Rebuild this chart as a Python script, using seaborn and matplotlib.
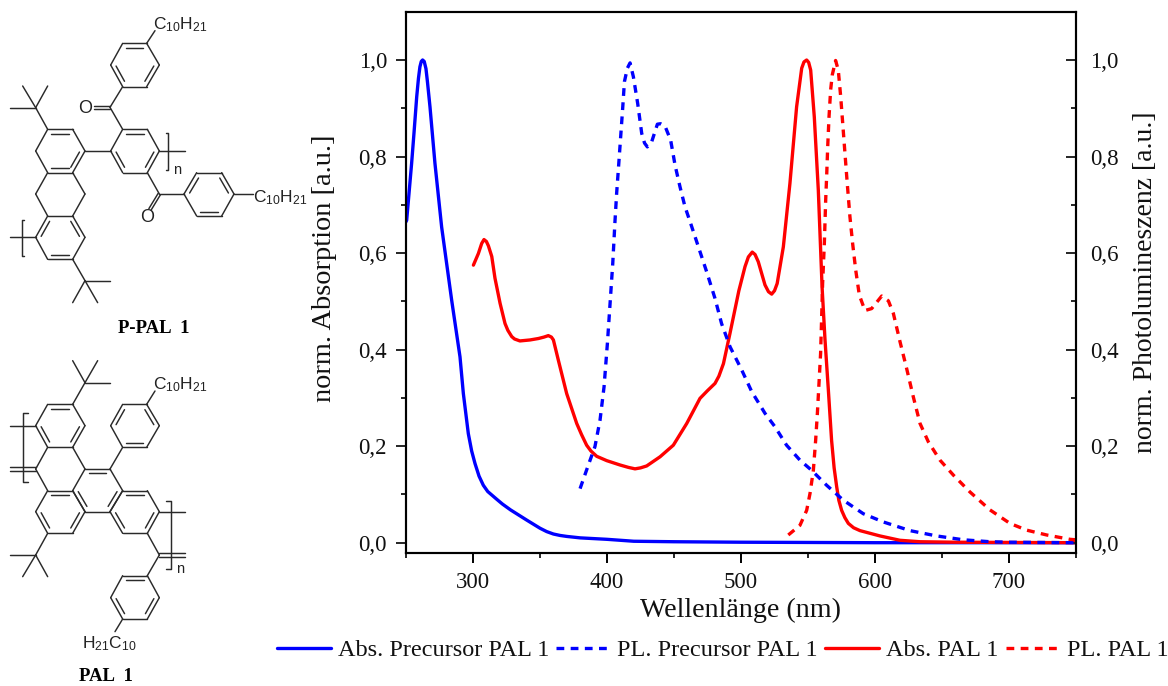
import numpy as np
import pandas as pd
import matplotlib
matplotlib.use("Agg")
import matplotlib.pyplot as plt
from matplotlib.lines import Line2D
from matplotlib.ticker import MultipleLocator, FuncFormatter
import seaborn as sns

# ---------- spectra ----------
abs_prec_nm = [250, 250.5, 254.2, 256, 258, 259.3, 260.4, 261.4, 262.4, 263.6, 264.9, 266, 267.9, 271.6, 276.6, 284.1, 290.3,
               292.8, 296.5, 299, 301.5, 304.5, 307.7, 311, 317.7, 322, 328, 340, 350, 355, 360, 365, 370, 380, 400, 420, 450, 500, 600, 750]
abs_prec_y = [0.665, 0.668, 0.786, 0.85, 0.924, 0.962, 0.986, 0.997, 1.0, 0.997, 0.982, 0.955, 0.903, 0.786, 0.654, 0.502, 0.385,
              0.309, 0.226, 0.19, 0.164, 0.138, 0.119, 0.106, 0.09, 0.08, 0.068, 0.047, 0.03, 0.023, 0.018, 0.015, 0.013, 0.01, 0.007, 0.003, 0.002, 0.001, 0.0, 0.0]

pl_prec_nm = [379.9, 386.1, 391, 394.8, 397.8, 400.3, 402.3, 404.3, 406, 407.2, 408.7, 410.2, 411.7, 413, 415.2,
              417.2, 419.7, 422.9, 425.9, 428, 430.1, 433.4, 437.6, 440, 443.3, 447.5, 450.8, 454.5, 458.2, 462, 468.2,
              474.4, 480.6, 485.5, 491.8, 500.5, 508, 517.9, 525.4, 534, 544, 552.7, 563.9, 576.4, 591.3, 606.2,
              626.1, 646, 666, 685.8, 700, 750]
pl_prec_y = [0.112, 0.161, 0.199, 0.254, 0.323, 0.413, 0.496, 0.579, 0.668, 0.724, 0.782, 0.841, 0.9, 0.955, 0.983,
             0.994, 0.965, 0.91, 0.848, 0.828, 0.82, 0.831, 0.867, 0.868, 0.863, 0.834, 0.782, 0.737, 0.696, 0.665, 0.613,
             0.561, 0.506, 0.454, 0.406, 0.358, 0.313, 0.268, 0.24, 0.202, 0.171, 0.15, 0.119, 0.088, 0.06, 0.043,
             0.025, 0.014, 0.006, 0.002, 0.001, 0.0]

abs_pal_nm = [300.3, 304, 306.5, 308.2, 310, 311.5, 314, 316.4, 320.2, 323.9, 326, 328.9, 331, 335, 342.5, 348.8, 353, 356.2,
              358.5, 360, 363.7, 369.9, 377.4, 381, 384.8, 388, 392.3, 399.8, 409.7, 416, 420.9, 425, 429.6, 439.6, 449.5,
              459.5, 469.4, 475, 480.6, 483.5, 486.9, 491.8, 498.4, 503, 505.5, 508.4, 510.5, 512.9, 517.9, 520.5, 522.9,
              525, 527, 531.6, 536.5, 541.5, 545.3, 547, 549, 550.5, 552, 554.7, 557.7, 560.5, 562.7, 565.2, 567.6, 569.5,
              571.4, 573, 575.1, 577.5, 580.1, 584, 588.8, 603.7, 618.6, 633.6, 660, 750]
abs_pal_y = [0.575, 0.599, 0.62, 0.628, 0.624, 0.615, 0.593, 0.548, 0.496, 0.454, 0.44, 0.427, 0.422, 0.418, 0.42, 0.423, 0.426, 0.429,
             0.426, 0.42, 0.378, 0.309, 0.247, 0.224, 0.202, 0.19, 0.179, 0.17, 0.161, 0.156, 0.153, 0.155, 0.159, 0.178, 0.202,
             0.247, 0.299, 0.315, 0.33, 0.345, 0.371, 0.434, 0.522, 0.572, 0.592, 0.602, 0.597, 0.582, 0.534, 0.52, 0.515,
             0.522, 0.537, 0.613, 0.744, 0.903, 0.983, 0.996, 1.0, 0.995, 0.979, 0.882, 0.73, 0.53, 0.42, 0.316, 0.212, 0.155,
             0.116, 0.088, 0.067, 0.052, 0.04, 0.031, 0.025, 0.014, 0.005, 0.002, 0.001, 0.0]

pl_pal_nm = [535.3, 544, 549, 551.5, 554, 555.7, 557, 558.2, 559.4, 560.2, 560.9, 562.2, 563.2, 564, 564.7, 565.7,
             566.9, 568.1, 570.6, 572.6, 574.4, 575.9, 577.6, 579.3, 581.3, 583.3, 585.6, 588.3, 592.5, 597.5,
             605, 610, 613.7, 618.7, 623.6, 628.6, 633.6, 639.8, 648.5, 658.5, 670.9, 685.8, 700.7, 713.2, 728.1,
             745.5, 750]
pl_pal_y = [0.016, 0.036, 0.067, 0.102, 0.15, 0.212, 0.268, 0.33, 0.392, 0.468, 0.537, 0.62, 0.71, 0.765, 0.82, 0.883,
            0.938, 0.969, 0.999, 0.979, 0.924, 0.869, 0.806, 0.744, 0.675, 0.62, 0.565, 0.513, 0.481, 0.485,
            0.511, 0.501, 0.475, 0.416, 0.361, 0.302, 0.247, 0.209, 0.171, 0.14, 0.105, 0.068, 0.04, 0.026, 0.016,
            0.007, 0.006]

x_ticks = [300, 400, 500, 600, 700]
y_ticks = [0.0, 0.2, 0.4, 0.6, 0.8, 1.0]
series_names = ["Abs. Precursor PAL 1", "PL. Precursor PAL 1", "Abs. PAL 1", "PL. PAL 1"]

sns.set_theme(style="ticks")
plt.rcParams["font.family"] = ["Liberation Serif", "DejaVu Serif"]
plt.rcParams["mathtext.default"] = "regular"
plt.rcParams["axes.linewidth"] = 1.5
W, H = 1168, 686
fig = plt.figure(figsize=(W / 100, H / 100), dpi=100, facecolor="white")

# ---------- chemical structures: drawn in zoomed-pixel units ----------
chem = fig.add_axes([0, 0, 1, 1], zorder=0)
chem.set_xlim(0, W * 3)
chem.set_ylim(H * 3, 0)
chem.axis("off")
BOND = dict(color="#2a2a2a", lw=1.05, solid_capstyle="round")


def bond(a, b):
    chem.plot([a[0], b[0]], [a[1], b[1]], **BOND)


def dbl(a, b, off=8):
    a, b = np.array(a, float), np.array(b, float)
    n = np.array([-(b - a)[1], (b - a)[0]])
    n = n / np.hypot(*n) * off / 2
    bond(a + n, b + n)
    bond(a - n, b - n)


def ring(v, doubles):
    v = np.array(v, float)
    c = v.mean(axis=0)
    for i in range(6):
        bond(v[i], v[(i + 1) % 6])
    for i in doubles:
        a, b = v[i], v[(i + 1) % 6]
        p = a + (c - a) * 0.2
        q = b + (c - b) * 0.2
        bond(p + (q - p) * 0.06, q - (q - p) * 0.06)


def tbu(a, c, t1, t2, t3):
    for p in (a, t1, t2, t3):
        bond(c, p)


def bracket(x, y0, y1, tick):
    chem.plot([x + tick, x, x, x + tick], [y0, y0, y1, y1], color="#2a2a2a", lw=1.05)


def sans(x, y, s, size=12.5, ha="left"):
    chem.text(x, y, s, ha=ha, va="center", fontsize=size, color="#222222", family=["Liberation Sans"])


# P-PAL 1
ring([(368, 130), (440, 130), (478, 195), (440, 260), (368, 260), (332, 195)], [0, 2, 4])
bond((440, 130), (465, 92))
sans(460, 74, "C$_{10}$H$_{21}$")
bond((368, 260), (330, 322))
dbl((330, 322), (282, 322))
sans(254, 326, "O", ha="center", size=13)
bond((330, 322), (368, 388))
ring([(368, 388), (442, 388), (478, 453), (442, 518), (368, 518), (332, 453)], [0, 2, 4])
bond((332, 453), (255, 453))
bond((478, 453), (555, 453))
bracket(505, 400, 510, -8)
sans(530, 510, "n", size=10.5, ha="center")
bond((442, 518), (478, 582))
dbl((478, 582), (450, 628))
sans(442, 652, "O", ha="center", size=13)
bond((478, 582), (552, 582))
ring([(552, 582), (590, 518), (665, 518), (702, 582), (665, 648), (590, 648)], [0, 2, 4])
bond((702, 582), (760, 582))
sans(760, 592, "C$_{10}$H$_{21}$")
ring([(143, 388), (218, 388), (255, 453), (218, 518), (143, 518), (107, 453)], [0, 2, 3])
tbu((143, 388), (107, 323), (30, 323), (68, 258), (143, 258))
bond((143, 518), (107, 582))
bond((107, 582), (143, 648))
bond((218, 518), (255, 582))
bond((255, 582), (218, 648))
ring([(143, 648), (218, 648), (255, 712), (218, 778), (143, 778), (107, 712)], [5, 1, 3])
bond((107, 712), (30, 712))
bracket(65, 660, 768, 8)
tbu((218, 778), (255, 842), (330, 842), (218, 908), (293, 908))
chem.text(462, 985, "P-PAL  1", ha="center", va="center", fontsize=13.5, fontweight="bold", color="black")

# PAL 1
dy = 1035
S = lambda pts: [(x, y + dy) for x, y in pts]
ring(S([(143, 178), (218, 178), (255, 242), (218, 307), (143, 307), (107, 242)]), [0, 2, 4])
tbu((218, 178 + dy), (255, 113 + dy), (330, 113 + dy), (218, 47 + dy), (293, 47 + dy))
bond((107, 242 + dy), (30, 242 + dy))
bracket(70, 205 + dy, 410 + dy, 15)
bond((143, 307 + dy), (107, 372 + dy))
bond((107, 372 + dy), (143, 437 + dy))
dbl((107, 372 + dy), (30, 372 + dy), 12)
bond((218, 307 + dy), (255, 372 + dy))
ring(S([(255, 372), (330, 372), (368, 437), (330, 500), (255, 500), (218, 437)]), [0, 2, 4])
bond((330, 372 + dy), (368, 307 + dy))
ring(S([(368, 307), (440, 307), (478, 242), (440, 178), (368, 178), (332, 242)]), [0, 2, 4])
bond((440, 178 + dy), (465, 138 + dy))
sans(460, 118 + dy, "C$_{10}$H$_{21}$")
ring(S([(143, 437), (218, 437), (255, 500), (218, 565), (143, 565), (107, 500)]), [0, 2, 4])
tbu((143, 565 + dy), (107, 630 + dy), (30, 630 + dy), (68, 695 + dy), (143, 695 + dy))
ring(S([(368, 437), (442, 437), (478, 500), (442, 565), (368, 565), (330, 500)]), [0, 2, 4])
bond((478, 500 + dy), (555, 500 + dy))
bond((442, 565 + dy), (478, 630 + dy))
dbl((478, 630 + dy), (555, 630 + dy), 12)
bond((478, 630 + dy), (442, 692 + dy))
bracket(513, 467 + dy, 672 + dy, -15)
sans(540, 673 + dy, "n", size=10.5, ha="center")
ring(S([(442, 692), (368, 692), (332, 758), (368, 822), (442, 822), (478, 758)]), [0, 2, 4])
bond((368, 822 + dy), (345, 860 + dy))
sans(245, 897 + dy, "H$_{21}$C$_{10}$")
chem.text(318, 995 + dy, "PAL  1", ha="center", va="center", fontsize=13.5, fontweight="bold", color="black")

# ---------- spectra axes ----------
ax = fig.add_axes([406 / W, 1 - 552.7 / H, 670 / W, (552.7 - 12) / H], zorder=2)
ax.patch.set_alpha(0)
ax2 = ax.twinx()
LW = 2.4
DASH = (0, (5.6 / LW, 4.6 / LW))
abs_prec = pd.DataFrame({"nm": abs_prec_nm, "v": abs_prec_y})
pl_prec = pd.DataFrame({"nm": pl_prec_nm, "v": pl_prec_y})
abs_pal = pd.DataFrame({"nm": abs_pal_nm, "v": abs_pal_y})
pl_pal = pd.DataFrame({"nm": pl_pal_nm, "v": pl_pal_y})
solid = dict(lw=LW, estimator=None, sort=False, solid_joinstyle="round")
sns.lineplot(data=abs_prec, x="nm", y="v", ax=ax, color="#0000ff", zorder=3, **solid)
sns.lineplot(data=abs_pal, x="nm", y="v", ax=ax, color="#ff0000", zorder=4, **solid)
sns.lineplot(data=pl_prec, x="nm", y="v", ax=ax2, color="#0000ff", lw=LW, estimator=None, sort=False, linestyle=DASH)
sns.lineplot(data=pl_pal, x="nm", y="v", ax=ax2, color="#ff0000", lw=LW, estimator=None, sort=False, linestyle=DASH)

ylim = (-10 / 482.7, 530.7 / 482.7)
for a in (ax, ax2):
    a.set_xlim(250, 750)
    a.set_ylim(*ylim)
    a.set_yticks(y_ticks)
    a.yaxis.set_minor_locator(MultipleLocator(0.1))
    a.yaxis.set_major_formatter(FuncFormatter(lambda v, _: f"{v:.1f}".replace(".", ",")))
    for s in a.spines.values():
        s.set_linewidth(1.5)
        s.set_color("black")
        s.set_visible(True)
ax.set_xticks(x_ticks)
ax.xaxis.set_minor_locator(MultipleLocator(50))
ax.tick_params(axis="x", which="major", direction="out", length=7.2, width=1.4, labelsize=16.5, pad=7, color="black", labelcolor="#111111")
ax.tick_params(axis="x", which="minor", direction="out", length=3.6, width=1.4)
ax.tick_params(axis="y", which="major", direction="out", length=7.2, width=1.4, labelsize=16.5, pad=6.5, labelcolor="#111111")
ax.tick_params(axis="y", which="minor", direction="out", length=3.6, width=1.4)
ax2.tick_params(axis="y", which="major", direction="in", length=7.2, width=1.4, labelsize=16.5, pad=10, labelcolor="#111111")
ax2.tick_params(axis="y", which="minor", direction="in", length=3.6, width=1.4)
ax.set_xlabel("Wellenlänge (nm)", fontsize=20.2, labelpad=3, color="#111111")
ax.set_ylabel("norm. Absorption [a.u.]", fontsize=20.4, labelpad=15.5, color="#111111", y=0.527)
ax2.set_ylabel("norm. Photolumineszenz [a.u.]", fontsize=20, labelpad=10.5, color="#111111")

handles = [
    Line2D([], [], color="#0000ff", lw=LW),
    Line2D([], [], color="#0000ff", lw=LW, linestyle=DASH),
    Line2D([], [], color="#ff0000", lw=LW),
    Line2D([], [], color="#ff0000", lw=LW, linestyle=DASH),
]
fig.legend(handles, series_names, loc="center left", bbox_to_anchor=(277 / W, 1 - 650 / H), ncol=4, frameon=False,
           fontsize=17.5, handlelength=2.22, handletextpad=0.29, columnspacing=0.29, borderpad=0, borderaxespad=0,
           labelcolor="#111111")

fig.savefig("out.png", dpi=100, facecolor="white")
